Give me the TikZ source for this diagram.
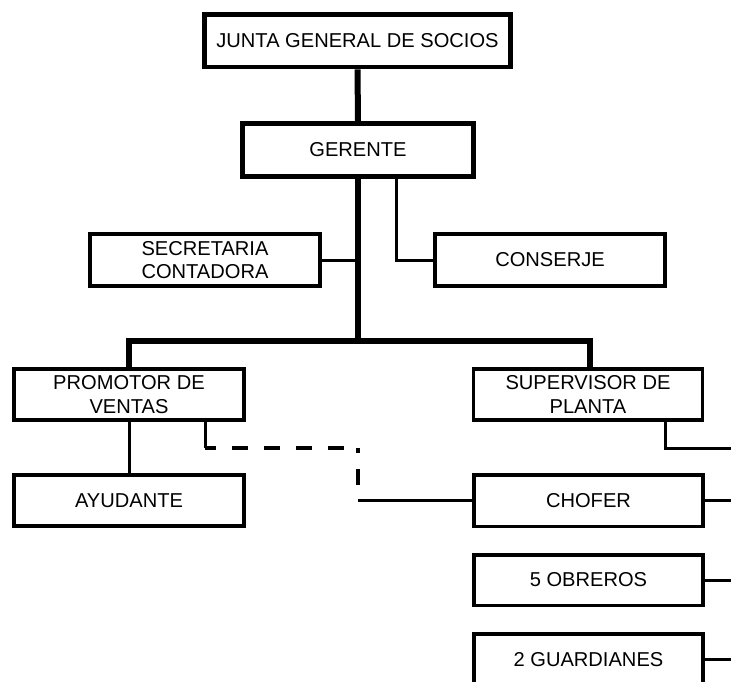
\documentclass[tikz,border=0pt]{standalone}
\usepackage{fontspec}
\setmainfont{Liberation Sans}
\begin{document}
\begin{tikzpicture}[x=1pt,y=-1pt,
  box/.style={draw=black, line width=3.5pt, rectangle, inner sep=0pt, align=center,
    minimum width=230pt, minimum height=51.5pt, fill=white,
    font=\fontsize{20.1}{23.5}\selectfont},
  topbox/.style={box, line width=4.6pt},
  mainline/.style={draw=black, line width=6pt},
  thinline/.style={draw=black, line width=3pt},
  dashline/.style={draw=black, line width=3.2pt, dash pattern=on 16pt off 16pt}
]
\useasboundingbox (0,0) rectangle (731,682);
\clip (0,0) rectangle (731,682);

\coordinate (junc) at (358,341);
\coordinate (d1) at (205,448);
\coordinate (d2) at (358,448);
\coordinate (d3) at (358,500);
\coordinate (edge) at (740,448);

\node[topbox, minimum width=306pt, minimum height=52.5pt] (junta) at (357.5,40.75) {JUNTA GENERAL DE SOCIOS};
\node[topbox, minimum width=230.5pt, minimum height=53.5pt] (gerente) at (358,150) {GERENTE};
\node[box, minimum height=52pt] (sec) at (205,260) {SECRETARIA\\CONTADORA};
\node[box, minimum height=52pt] (conserje) at (550,260) {CONSERJE};
\node[box, minimum height=51pt] (prom) at (129,394.5) {PROMOTOR DE\\VENTAS};
\node[box, minimum width=229pt, minimum height=51pt] (sup) at (588,394.5) {SUPERVISOR DE\\PLANTA};
\node[box, minimum height=51pt] (ayu) at (129,500.5) {AYUDANTE};
\node[box, minimum width=229pt, minimum height=51.5pt] (chofer) at (588.5,500.5) {CHOFER};
\node[box, minimum width=229pt, minimum height=50.5pt] (obr) at (588.5,580) {5 OBREROS};
\node[box, minimum width=229pt, minimum height=51pt] (guar) at (588.5,659.5) {2 GUARDIANES};

% main thick lines
\draw[mainline] (junta.south) -- (gerente.north);
\draw[mainline] (gerente.south) -- (junc);
\draw[mainline] (prom.north) |- (junc) -| ([xshift=2pt]sup.north);

% thin lines
\draw[thinline] (sec.east) -- (sec.east -| junc);
\draw[thinline] ([xshift=38.5pt]gerente.south) |- (conserje.west);
\draw[thinline] (prom.south) -- (ayu.north);
\draw[thinline] (d1 |- prom.south) -- (d1);
\draw[dashline, dash phase=5pt] (d1) -- (d2);
\draw[dashline, dash phase=11pt] (d2) -- (d3);
\draw[thinline] (d3) -- (d3 -| chofer.west);

\draw[thinline] ([xshift=77pt]sup.south) |- (edge);
\draw[thinline] (chofer.east) -- (chofer.east -| edge);
\draw[thinline] (obr.east) -- (obr.east -| edge);
\draw[thinline] (guar.east) -- (guar.east -| edge);
\end{tikzpicture}
\end{document}
